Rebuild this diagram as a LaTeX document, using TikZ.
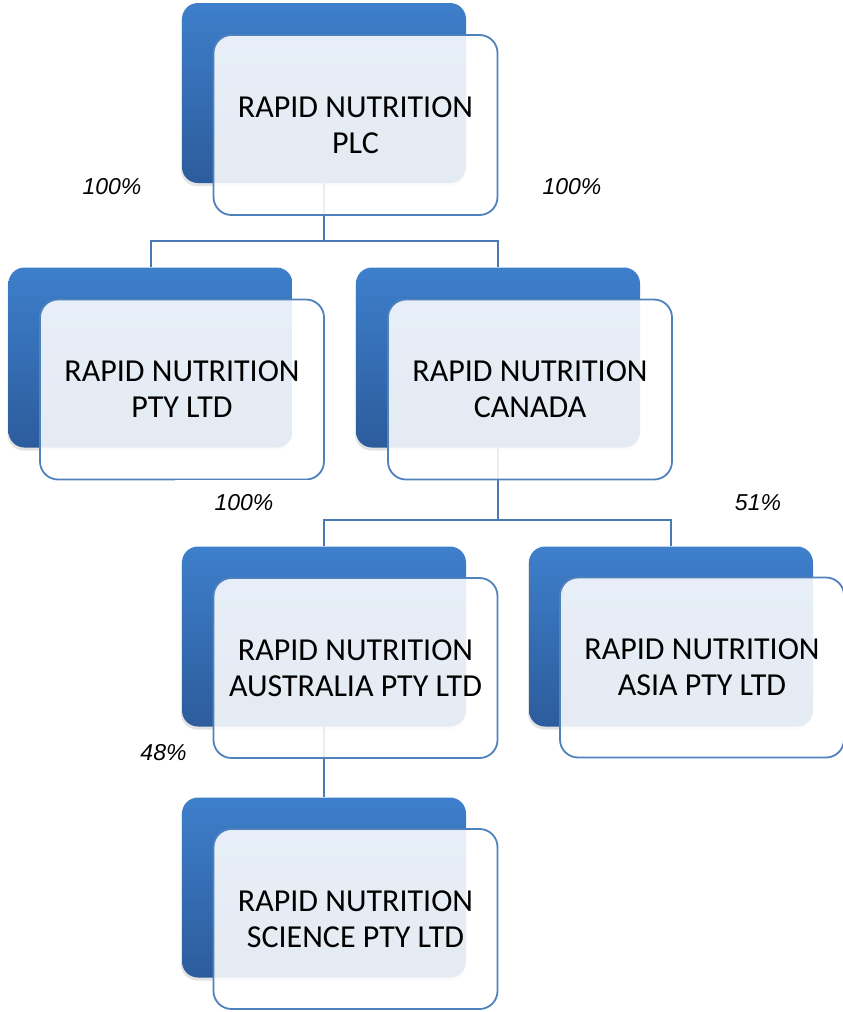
\documentclass[tikz,border=0pt]{standalone}
\usepackage{fontspec}
\setmainfont{Carlito}
\newfontfamily\pctfont{Liberation Sans}
\usetikzlibrary{shadows,calc}
\definecolor{acc}{RGB}{79,129,189}
\definecolor{connc}{RGB}{74,122,180}
\definecolor{dtop}{RGB}{62,127,203}
\definecolor{dbot}{RGB}{44,92,156}
\tikzset{
 darkbox/.style={rounded corners=16pt, minimum width=284pt, minimum height=180pt,
   top color=dtop, bottom color=dbot, draw=none, inner sep=0pt,
   drop shadow={shadow xshift=-1pt, shadow yshift=-3pt, opacity=0.22}},
 overbox/.style={rounded corners=18pt, minimum width=284pt, minimum height=180pt,
   fill=white, fill opacity=0.88, text opacity=1, draw=acc, line width=1.8pt,
   align=center, font=\fontsize{32}{36}\selectfont, inner sep=0pt},
 conn/.style={draw=connc, line width=2pt},
 pct/.style={font=\pctfont\itshape\fontsize{23}{26}\selectfont, inner sep=0pt}
}
\begin{document}
\begin{tikzpicture}[x=1pt,y=-1pt]
\useasboundingbox (0,0) rectangle (843,1012);
% dark boxes
\node[darkbox] (d1) at (324,93) {};
\node[darkbox] (d2) at (150.5,357.5) {};
\node[darkbox] (d3) at (498,357.5) {};
\node[darkbox] (d4) at (324,636.5) {};
\node[darkbox] (d5) at (671,636.5) {};
\node[darkbox] (d6) at (324,887.5) {};
% connectors
\coordinate (j1) at (324,241);
\coordinate (j2) at (498,520);
\draw[conn] (d1.south) -- (j1) -| (d2.north);
\draw[conn] (j1) -| (d3.north);
\draw[conn] (d3.south) -- (j2) -| (d4.north);
\draw[conn] (j2) -| (d5.north);
\draw[conn] (d4.south) -- (d6.north);
% overlays
\node[overbox] (o1) at (355.5,125) {RAPID NUTRITION\\PLC};
\node[overbox] (o2) at (182,389.5) {RAPID NUTRITION\\PTY LTD};
\node[overbox] (o3) at (530,389.5) {RAPID NUTRITION\\CANADA};
\node[overbox] (o4) at (355.5,668) {RAPID NUTRITION\\AUSTRALIA PTY LTD};
\node[overbox] (o5) at (702,667.5) {RAPID NUTRITION\\ASIA PTY LTD};
\node[overbox] (o6) at (355.5,919) {RAPID NUTRITION\\SCIENCE PTY LTD};
% labels
\node[pct] (p1) at (112,187) {100\%};
\node[pct] (p2) at (572,187) {100\%};
\node[pct, fill=white, minimum width=138pt, minimum height=46pt] (p3) at (244,503) {100\%};
\node[pct] (p4) at (758,503) {51\%};
\node[pct] (p5) at (163.5,753) {48\%};
\end{tikzpicture}
\end{document}
